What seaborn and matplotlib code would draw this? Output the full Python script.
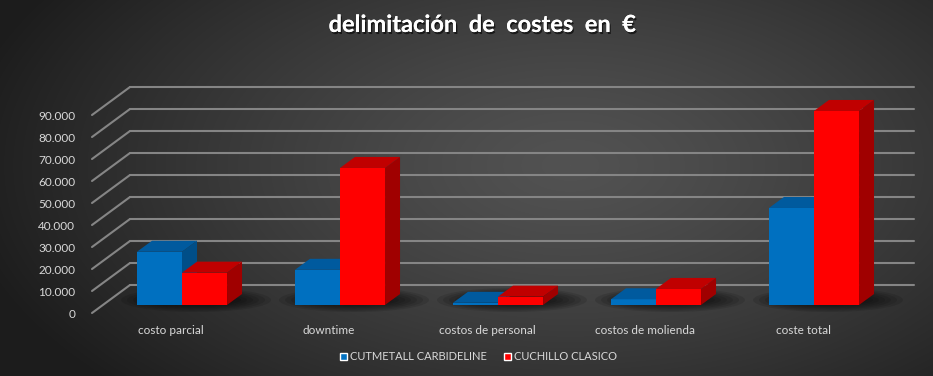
import numpy as np
import pandas as pd
import seaborn as sns
import matplotlib.pyplot as plt
from matplotlib.transforms import Affine2D, IdentityTransform
from matplotlib.patches import Polygon, Ellipse
from matplotlib.ticker import FuncFormatter
import matplotlib.patheffects as pe

# datos
categorias = ['costo parcial', 'downtime', 'costos de personal', 'costos de molienda', 'coste total']
cutmetall = [24200, 16000, 1000, 2600, 44100]
cuchillo = [14700, 62300, 3800, 7300, 88200]
series = ['CUTMETALL CARBIDELINE', 'CUCHILLO CLASICO']
y_ticks = [0, 10000, 20000, 30000, 40000, 50000, 60000, 70000, 80000, 90000]

df = pd.DataFrame({
    'categoria': categorias * 2,
    'serie': [series[0]] * 5 + [series[1]] * 5,
    'valor': cutmetall + cuchillo,
})

azul, rojo = '#0070C0', '#FF0000'
azul_top, azul_side = '#005A9E', '#004E88'
rojo_top, rojo_side = '#C00000', '#A00000'
texto = '#D9D9D9'

sns.set_theme(style='dark')
plt.rcParams['font.family'] = ['Lato', 'DejaVu Sans']

W, H = 933, 376
fig = plt.figure(figsize=(W / 100, H / 100), dpi=100)

# fondo con degradado radial
bg = fig.add_axes([0, 0, 1, 1])
yy, xx = np.mgrid[0:H, 0:W]
r = np.sqrt(((xx - 570) / 620) ** 2 + ((yy - 165) / 330) ** 2)
r = np.clip(r, 0, 1)
c0, c1 = 0x52 / 255, 0x1C / 255
g = c0 + (c1 - c0) * r ** 1.3
bg.imshow(np.dstack([g, g, g]), aspect='auto', extent=[0, 1, 0, 1])
bg.set_axis_off()

# plano frontal: x -0.5 -> px 92, 4.5 -> px 882 ; y 0 -> px 313, 90000 -> px 115
ax = fig.add_axes([92 / W, (H - 313) / H, 790 / W, 198 / H])
ax.patch.set_alpha(0)
sns.barplot(data=df, x='categoria', y='valor', hue='serie', palette=[azul, rojo],
            saturation=1, width=0.57, ax=ax)
ax.set_xlim(-0.5, 4.5)
ax.set_ylim(0, 90000)
ax.set_xlabel('')
ax.set_ylabel('')
for s in ax.spines.values():
    s.set_visible(False)
ax.grid(False)

# pared de fondo y lineas en perspectiva
back = Affine2D().translate(38, 28)
for v in y_ticks:
    ax.plot([-0.5, 4.46], [v, v], transform=ax.transData + back, color='#858585',
            lw=1.5, clip_on=False, zorder=0.5)
    p0 = ax.transData.transform((-0.5, v))
    ax.plot([p0[0], p0[0] + 38], [p0[1], p0[1] + 28], transform=IdentityTransform(),
            color='#858585', lw=1.5, clip_on=False, zorder=0.5)

ax.set_yticks(y_ticks)
ax.yaxis.set_major_formatter(FuncFormatter(lambda v, p: f'{int(v):,}'.replace(',', '.')))
ax.tick_params(axis='y', colors=texto, labelsize=8.5, length=0, pad=12)
ax.tick_params(axis='x', colors=texto, labelsize=8.5, length=0, pad=9)

# caras 3D de las barras
front = Affine2D().translate(11, 8)
depth = np.array([15, 11])
for k, cont in enumerate(ax.containers):
    top_c, side_c = (azul_top, azul_side) if k == 0 else (rojo_top, rojo_side)
    z = 2 + k
    for bar in cont:
        bar.set_transform(ax.transData + front)
        bar.set_zorder(z)
        bar.set_clip_on(False)
        bar.set_linewidth(0)
        x0, w, h = bar.get_x(), bar.get_width(), bar.get_height()
        T = ax.transData + front
        bl, br, tl, tr = T.transform([(x0, 0), (x0 + w, 0), (x0, h), (x0 + w, h)])
        ax.add_patch(Polygon([tl, tr, tr + depth, tl + depth], closed=True,
                             transform=IdentityTransform(), facecolor=top_c,
                             lw=0, zorder=z + 0.1, clip_on=False))
        ax.add_patch(Polygon([br, tr, tr + depth, br + depth], closed=True,
                             transform=IdentityTransform(), facecolor=side_c,
                             lw=0, zorder=z + 0.1, clip_on=False))

# sombras difusas bajo cada grupo
for i in range(len(categorias)):
    c = (ax.transData + front).transform((i, 0))
    for j in range(7):
        ax.add_patch(Ellipse((c[0] + 14, c[1] + 5), 150 - 12 * j, 24 - 2.5 * j,
                             transform=IdentityTransform(), facecolor='black',
                             alpha=0.11, lw=0, zorder=1, clip_on=False))

# leyenda
sns.move_legend(ax, 'lower center', bbox_to_anchor=(0.513, 0.01), bbox_transform=fig.transFigure,
                ncol=2, frameon=False, title=None, fontsize=8, handlelength=0.6,
                handleheight=0.6, handletextpad=0.3, columnspacing=1.5, labelcolor=texto)

fig.text(0.517, 0.935, 'delimitación  de  costes  en  €', ha='center', va='center',
         color='white', fontsize=17, fontweight='bold',
         path_effects=[pe.withSimplePatchShadow(offset=(1, -1.5), shadow_rgbFace='black', alpha=0.6),
                       pe.Normal()])

fig.savefig('out.png', dpi=100)
